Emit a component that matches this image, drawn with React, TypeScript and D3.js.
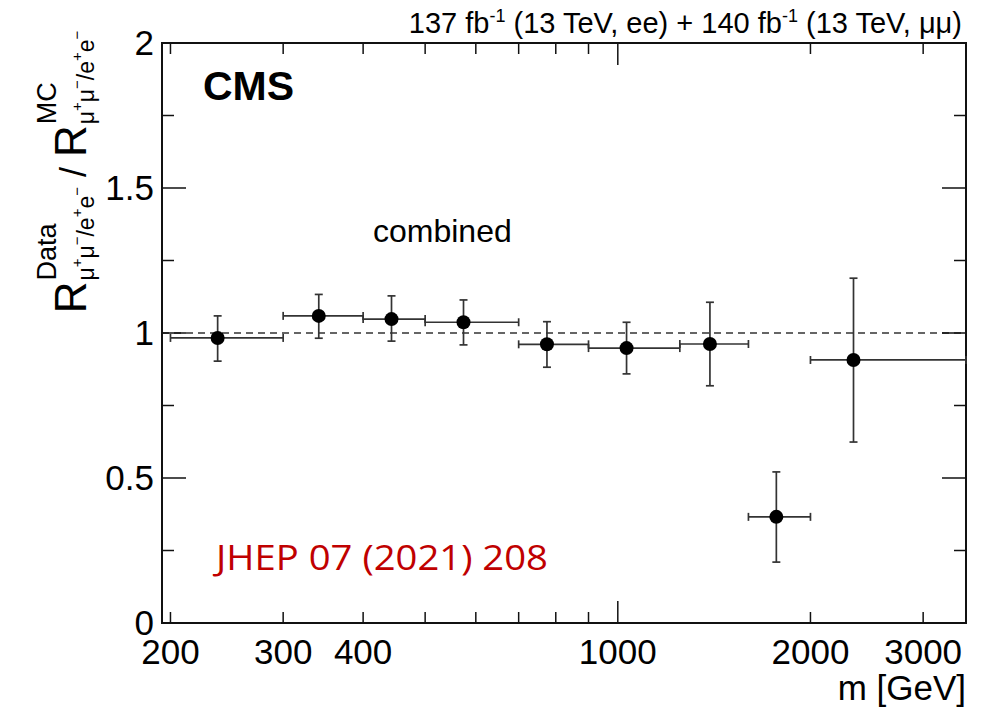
import { useEffect, useRef } from 'react';
import * as d3 from 'd3';

// mass bins [GeV]
const binLow = [200, 300, 400, 500, 700, 900, 1250, 1600, 2000];
const binHigh = [300, 400, 500, 700, 900, 1250, 1600, 2000, 3500];
const massPoint = [237, 341, 443, 574, 775, 1032, 1393, 1769, 2335];
// double ratio and its error band
const ratio = [0.983, 1.059, 1.048, 1.037, 0.961, 0.948, 0.962, 0.366, 0.907];
const ratioLow = [0.903, 0.982, 0.972, 0.959, 0.882, 0.859, 0.818, 0.21, 0.624];
const ratioHigh = [1.059, 1.133, 1.128, 1.114, 1.039, 1.037, 1.106, 0.521, 1.189];

const xLabelTicks = [200, 300, 400, 1000, 2000, 3000];
const xSmallTicks = [200, 300, 400, 500, 600, 700, 800, 900, 2000, 3000];
const xBigTicks = [1000];
const yLabelTicks = [0, 0.5, 1, 1.5, 2];
const ySmallTicks = [0.25, 0.75, 1.25, 1.75];

const FONT = '"Liberation Sans", Arial, Helvetica, sans-serif';

type Piece = { t: string; size: number; dy: number };

const App = () => {
  const svgRef = useRef<SVGSVGElement>(null);

  useEffect(() => {
    const svg = d3.select(svgRef.current);
    svg.selectAll('*').remove();

    const left = 162, right = 966, top = 43, bottom = 623;
    const x = d3.scaleLog().domain([194, 3500]).range([left, right]);
    const y = d3.scaleLinear().domain([0, 2]).range([bottom, top]);

    const g = svg.append('g');

    // reference line at 1
    g.append('line')
      .attr('x1', left).attr('x2', right)
      .attr('y1', y(1)).attr('y2', y(1))
      .attr('stroke', '#333').attr('stroke-width', 1.5)
      .attr('stroke-dasharray', '7,5');

    // ticks, both sides
    const tk = g.append('g').attr('stroke', '#111').attr('stroke-width', 1.5);
    const xt = (vals: number[], len: number) => {
      vals.forEach(v => {
        tk.append('line').attr('x1', x(v)).attr('x2', x(v)).attr('y1', bottom).attr('y2', bottom - len);
        tk.append('line').attr('x1', x(v)).attr('x2', x(v)).attr('y1', top).attr('y2', top + len);
      });
    };
    xt(xSmallTicks, 11);
    xt(xBigTicks, 22);
    const yt = (vals: number[], len: number) => {
      vals.forEach(v => {
        tk.append('line').attr('x1', left).attr('x2', left + len).attr('y1', y(v)).attr('y2', y(v));
        tk.append('line').attr('x1', right).attr('x2', right - len).attr('y1', y(v)).attr('y2', y(v));
      });
    };
    yt(yLabelTicks, 24);
    yt(ySmallTicks, 12);

    // frame
    g.append('rect')
      .attr('x', left).attr('y', top)
      .attr('width', right - left).attr('height', bottom - top)
      .attr('fill', 'none').attr('stroke', '#111').attr('stroke-width', 2);

    // tick labels
    g.selectAll('.xl').data(xLabelTicks).enter().append('text')
      .attr('x', d => x(d)).attr('y', 664)
      .attr('text-anchor', 'middle')
      .attr('font-family', FONT).attr('font-size', 35)
      .text(d => d);
    g.selectAll('.yl').data(yLabelTicks).enter().append('text')
      .attr('x', 154).attr('y', d => y(d) + 12)
      .attr('text-anchor', 'end')
      .attr('font-family', FONT).attr('font-size', 35)
      .text(d => d);

    g.append('text')
      .attr('x', 966).attr('y', 700)
      .attr('text-anchor', 'end')
      .attr('font-family', FONT).attr('font-size', 35)
      .text('m [GeV]');

    // error bars
    const eb = g.append('g').attr('stroke', '#333').attr('stroke-width', 1.7);
    ratio.forEach((r, i) => {
      const cx = x(massPoint[i]), cy = y(r);
      eb.append('line').attr('x1', x(binLow[i])).attr('x2', x(binHigh[i])).attr('y1', cy).attr('y2', cy);
      eb.append('line').attr('x1', cx).attr('x2', cx).attr('y1', y(ratioLow[i])).attr('y2', y(ratioHigh[i]));
      // caps
      [binLow[i], binHigh[i]].forEach(b => {
        eb.append('line').attr('x1', x(b)).attr('x2', x(b)).attr('y1', cy - 4).attr('y2', cy + 4);
      });
      [ratioLow[i], ratioHigh[i]].forEach(b => {
        eb.append('line').attr('x1', cx - 4).attr('x2', cx + 4).attr('y1', y(b)).attr('y2', y(b));
      });
    });
    g.selectAll('.pt').data(ratio).enter().append('circle')
      .attr('cx', (d, i) => x(massPoint[i])).attr('cy', d => y(d))
      .attr('r', 7).attr('fill', '#000');

    // texts
    g.append('text')
      .attr('x', 203).attr('y', 100)
      .attr('font-family', FONT).attr('font-weight', 'bold').attr('font-size', 41)
      .text('CMS');
    g.append('text')
      .attr('x', 373).attr('y', 242)
      .attr('font-family', FONT).attr('font-size', 32)
      .text('combined');
    g.append('text')
      .attr('x', 216).attr('y', 570)
      .attr('font-family', '"Open Sans", "Noto Sans", sans-serif').attr('font-size', 34)
      .attr('fill', '#c00000')
      .attr('textLength', 332).attr('lengthAdjust', 'spacingAndGlyphs')
      .text('JHEP 07 (2021) 208');

    // lumi label
    const lumi = g.append('text')
      .attr('x', 962).attr('y', 33)
      .attr('text-anchor', 'end')
      .attr('font-family', FONT).attr('font-size', 29);
    const seg = (t: string, size: number, dy: number) =>
      lumi.append('tspan').attr('font-size', size).attr('dy', dy).text(t);
    seg('137 fb', 29, 0);
    seg('-1', 18, -11);
    seg(' (13 TeV, ee) + 140 fb', 29, 11);
    seg('-1', 18, -11);
    seg(' (13 TeV, \u03bc\u03bc)', 29, 11);

    // y axis title, built piece by piece
    const yl = g.append('g').attr('font-family', FONT);
    const run = (pieces: Piece[], x0: number) => {
      let cx = x0;
      pieces.forEach(p => {
        const t = yl.append('text')
          .attr('x', cx).attr('y', p.dy)
          .attr('font-size', p.size)
          .attr('xml:space', 'preserve')
          .text(p.t);
        cx += (t.node() as SVGTextElement).getComputedTextLength();
      });
      return cx;
    };
    const sub: Piece[] = [
      { t: '\u03bc', size: 23, dy: 8 },
      { t: '+', size: 15, dy: -4 },
      { t: '\u03bc', size: 23, dy: 8 },
      { t: '\u2212', size: 15, dy: -4 },
      { t: '/e', size: 23, dy: 8 },
      { t: '+', size: 15, dy: -4 },
      { t: 'e', size: 23, dy: 8 },
      { t: '\u2212', size: 15, dy: -4 },
    ];
    let c = run([{ t: 'R', size: 44, dy: 0 }], 0);
    let e1 = run([{ t: 'Data', size: 27, dy: -30 }], c + 1);
    let e2 = run(sub, c + 1);
    c = Math.max(e1, e2);
    c = run([{ t: ' / ', size: 36, dy: 0 }], c);
    c = run([{ t: 'R', size: 44, dy: 0 }], c);
    e1 = run([{ t: 'MC', size: 27, dy: -30 }], c + 1);
    e2 = run(sub, c + 1);
    c = Math.max(e1, e2);
    yl.attr('transform', `translate(86,${172 + c / 2}) rotate(-90)`);
  }, []);

  return (
    <svg
      ref={svgRef}
      width={994}
      height={708}
      style={{ position: 'absolute', left: 0, top: 0, background: '#fff' }}
    />
  );
};

export default App;
